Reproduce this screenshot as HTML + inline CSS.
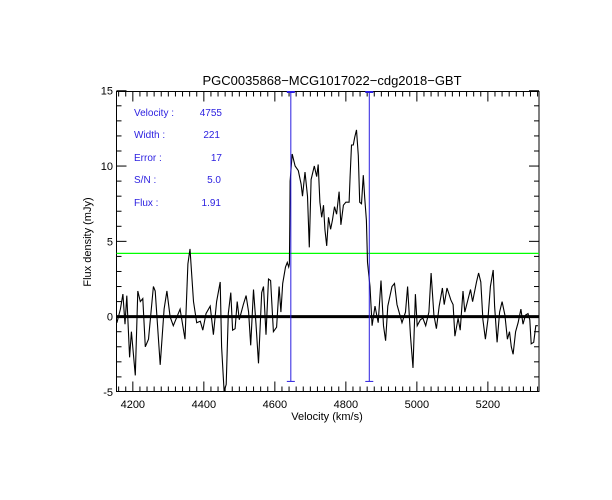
<!DOCTYPE html>
<html><head><meta charset="utf-8"><style>
body{margin:0;background:#fff;}
svg{display:block;font-family:"Liberation Sans",sans-serif;}
</style></head><body>
<svg id="chart" width="612" height="500" xmlns="http://www.w3.org/2000/svg">
<rect width="612" height="500" fill="#fff"/>
<text x="332" y="85" font-size="13" text-anchor="middle">PGC0035868−MCG1017022−cdg2018−GBT</text>
<text x="327" y="420" font-size="11" text-anchor="middle">Velocity (km/s)</text>
<text x="91" y="242" font-size="11" text-anchor="middle" transform="rotate(-90 91 242)">Flux density (mJy)</text>
<g id="axes"></g>
<g id="marks"></g>
<g fill="#2a1ee0" font-size="10">
<text x="134" y="116">Velocity :</text><text x="222" y="116" text-anchor="end">4755</text>
<text x="134" y="138">Width :</text><text x="220" y="138" text-anchor="end">221</text>
<text x="134" y="161">Error :</text><text x="222" y="161" text-anchor="end">17</text>
<text x="134" y="183">S/N :</text><text x="221" y="183" text-anchor="end">5.0</text>
<text x="134" y="206">Flux :</text><text x="221" y="206" text-anchor="end">1.91</text>
</g>
</svg>
<script>
const velocities=[4155,4165,4172,4178,4183,4191,4196,4207,4214,4221,4228,4235,4244,4258,4263,4277,4288,4296,4305,4314,4333,4347,4355,4361,4371,4380,4390,4397,4406,4418,4427,4436,4446,4450,4457,4463,4469,4476,4481,4488,4494,4500,4511,4519,4526,4532,4540,4547,4554,4563,4568,4575,4582,4588,4596,4605,4612,4617,4622,4630,4635,4639,4641,4642,4643,4649,4657,4666,4674,4678,4685,4692,4697,4702,4711,4718,4722,4727,4732,4737,4741,4746,4751,4757,4762,4768,4774,4781,4786,4793,4800,4809,4812,4816,4821,4825,4830,4835,4839,4844,4849,4853,4858,4860,4861,4868,4874,4882,4891,4899,4906,4912,4918,4930,4937,4944,4958,4968,4974,4982,4989,4996,5001,5010,5017,5025,5034,5040,5048,5055,5063,5072,5077,5085,5096,5102,5107,5116,5122,5130,5135,5151,5157,5168,5174,5180,5186,5193,5200,5207,5215,5219,5226,5233,5240,5248,5255,5261,5266,5271,5278,5285,5293,5299,5306,5313,5318,5322,5329,5335,5341];
const flux=[-0.4,0.5,1.5,-0.5,1.4,-2.7,-1.0,-3.9,1.7,1.0,1.2,-2.0,-1.5,2.0,1.7,-3.2,0.5,1.7,0,-0.6,0.5,-1.5,3.5,4.5,1.0,-0.4,-0.3,-0.9,0.2,0.7,-1.2,1.0,2.3,-2.0,-5.0,-4.5,0.2,1.6,-0.9,-0.8,1.0,-0.2,0.8,1.4,0.3,-1.9,1.8,-0.5,-3.1,1.6,2.0,-1.2,2.5,2.4,-1.0,-0.7,2.0,0.3,2.2,3.3,3.6,3.3,3.5,6.2,9.0,10.8,10.0,9.7,8.8,8.0,9.6,8.0,4.6,9.1,10.0,9.3,10.1,7.6,6.6,7.4,5.8,4.7,6.6,5.8,6.4,7.3,6.8,8.3,6.1,7.4,7.6,7.6,9.3,11.4,11.4,11.9,12.4,10.7,7.6,7.5,9.4,7.9,6.4,4.4,3.6,2.0,-0.6,0.7,-0.4,2.4,-0.6,-1.6,0.7,2.0,2.2,0.8,-0.4,0.3,2.0,-1.3,-3.4,1.5,-0.6,-0.2,-0.1,-0.6,0.3,2.9,0.1,-0.8,0.7,1.9,0.8,1.9,1.1,0.8,-1.3,-0.1,-0.9,1.7,0.3,1.8,1.0,2.3,2.9,2.3,-0.2,-1.5,-0.2,2.0,3.1,0.7,-1.7,0.3,1.0,0.1,-1.5,-1.0,-2.0,-2.5,-1.0,-0.4,0.5,-0.5,0.1,0.2,-0.2,-1.8,-1.7,-0.6,-0.6];
const xTicks=[4200,4400,4600,4800,5000,5200];
const yTicks=[-5,0,5,10,15];
const lineEdges=[4645,4866];
const threshold=[4.2];
const xMin=4154,xMax=5344,yMin=-4.97,yMax=14.95;
const L=116.5,R=539,T=91.5,B=391.5;
const NS="http://www.w3.org/2000/svg";
const sx=v=>L+(v-xMin)/(xMax-xMin)*(R-L);
const sy=v=>B-(v-yMin)/(yMax-yMin)*(B-T);
function mk(tag,attrs,parent){const e=document.createElementNS(NS,tag);for(const k in attrs)e.setAttribute(k,attrs[k]);parent.appendChild(e);return e;}
const axes=document.getElementById('axes'),marks=document.getElementById('marks');
const frame=mk('rect',{x:L,y:T,width:R-L,height:B-T,fill:'none',stroke:'#000','stroke-width':1},axes);


for(let v=4160;v<=xMax;v+=20){const maj=v%200===0;const len=maj?10:5;const x=sx(v);
 const t1=mk('line',{x1:x,x2:x,y1:B,y2:B-len,stroke:'#000'},axes);
 
 
 const t2=mk('line',{x1:x,x2:x,y1:T,y2:T+len,stroke:'#000'},axes);
 
 }
xTicks.forEach(v=>{const t=mk('text',{x:sx(v),y:408,'font-size':11,'text-anchor':'middle'},axes);t.textContent=v;
 
 });
for(let v=-4;v<=15;v+=1){const maj=v%5===0;const len=maj?10:5;const y=sy(v);
 const t1=mk('line',{x1:L,x2:L+len,y1:y,y2:y,stroke:'#000'},axes);
 
 
 const t2=mk('line',{x1:R,x2:R-len,y1:y,y2:y,stroke:'#000'},axes);
 
 }
yTicks.forEach(v=>{const t=mk('text',{x:113,y:sy(v)+4,'font-size':11,'text-anchor':'end'},axes);t.textContent=v;
 
 });
const g=mk('line',{x1:L,x2:R,y1:sy(threshold[0]),y2:sy(threshold[0]),stroke:'#00ff00','stroke-width':1.2},marks);


const pts=velocities.map((v,i)=>sx(v).toFixed(1)+','+sy(Math.max(flux[i],yMin)).toFixed(1)).join(' ');
const pl=mk('polyline',{points:pts,fill:'none',stroke:'#000','stroke-width':1.1},marks);


const z=mk('line',{x1:L,x2:R,y1:sy(0),y2:sy(0),stroke:'#000','stroke-width':3},marks);


lineEdges.forEach(v=>{const x=sx(v);
 const l=mk('line',{x1:x,x2:x,y1:T,y2:sy(-4.3),stroke:'#2a1ee0','stroke-width':1},marks);
 
 
 const c=mk('line',{x1:x-4,x2:x+4,y1:sy(-4.3),y2:sy(-4.3),stroke:'#2a1ee0'},marks);
 
 
 const c2=mk('line',{x1:x-4,x2:x+4,y1:T+0.5,y2:T+0.5,stroke:'#2a1ee0','stroke-width':2},marks);
 
 });
</script>
</body></html>
